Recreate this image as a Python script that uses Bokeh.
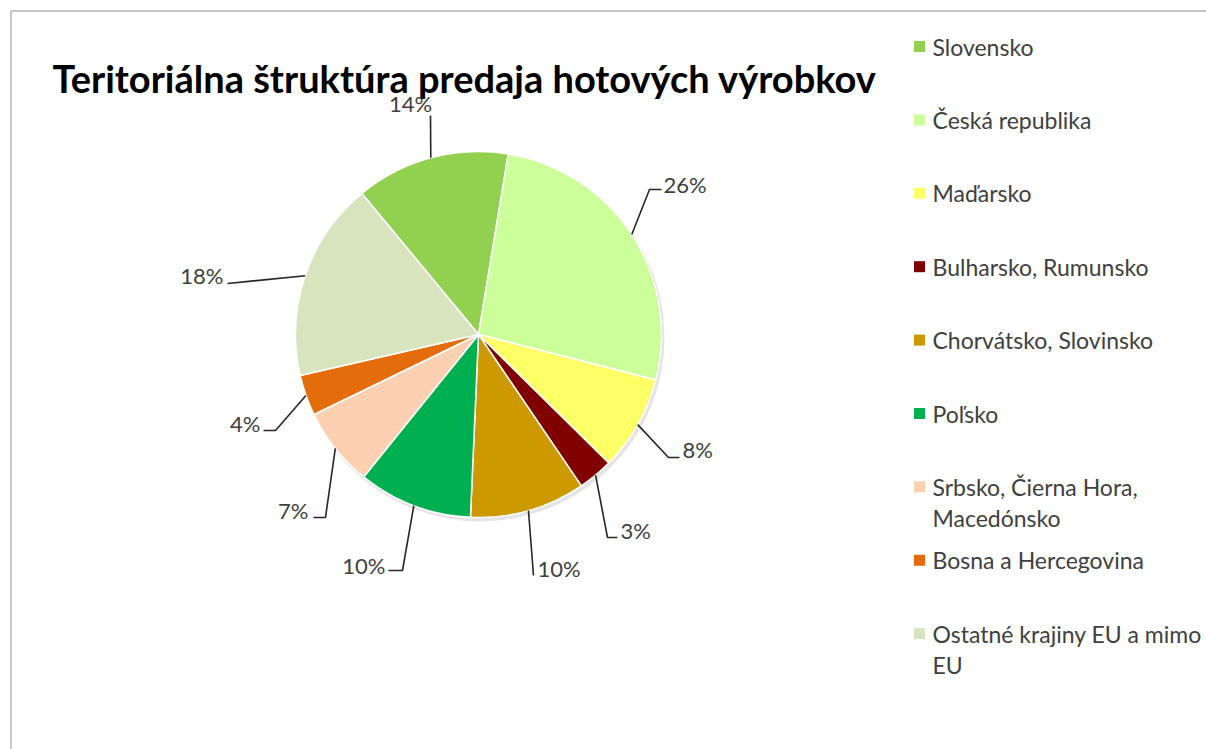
import math
from bokeh.plotting import figure
from bokeh.models import Range1d
from bokeh.core.properties import value
from bokeh.embed import file_html
from bokeh.resources import INLINE

W, H = 1206, 749

# ---------------- data ----------------
title = "Teritoriálna štruktúra predaja hotových výrobkov"
categories = [
    "Slovensko",
    "Česká republika",
    "Maďarsko",
    "Bulharsko, Rumunsko",
    "Chorvátsko, Slovinsko",
    "Poľsko",
    "Srbsko, Čierna Hora, Macedónsko",
    "Bosna a Hercegovina",
    "Ostatné krajiny EU a mimo EU",
]
legend_lines = [
    ["Slovensko"],
    ["Česká republika"],
    ["Maďarsko"],
    ["Bulharsko, Rumunsko"],
    ["Chorvátsko, Slovinsko"],
    ["Poľsko"],
    ["Srbsko, Čierna Hora,", "Macedónsko"],
    ["Bosna a Hercegovina"],
    ["Ostatné krajiny EU a mimo", "EU"],
]
values = [13.6, 26.4, 8.4, 3.1, 10.2, 10.1, 7.0, 3.6, 17.6]
colors = ["#92D050", "#CCFF99", "#FFFF66", "#800000", "#CC9900",
          "#00B050", "#FCD0B0", "#E46C0A", "#D7E4BD"]
pct_labels = [f"{round(v)}%" for v in values]

# ---------------- layout (pixel coords, y downwards) ----------------
CX, CY, R = 478, 334, 183
FIRST_ANGLE = 320.4  # degrees clockwise from 12 o'clock
# elbow x,y ; end x,y ; text x,y ; align
label_layout = [
    (430, 115, 430, 115, 410, 103, "center"),
    (649, 189, 661, 189, 663, 184, "left"),
    (668, 457, 679, 457, 682, 449, "left"),
    (607, 537, 617, 537, 620, 530, "left"),
    (533, 575, 533, 575, 537, 568, "left"),
    (402, 570, 388, 570, 385, 565, "right"),
    (325, 517, 313, 517, 308, 510, "right"),
    (275, 430, 263, 430, 260, 423, "right"),
    (227, 283, 227, 283, 223, 275, "right"),
]
LEG_X_BOX, LEG_X_TEXT, LEG_Y0, LEG_STEP, LEG_LINE = 919, 932, 46, 73.4, 31

FONT = "Lato"


def Y(py):
    return H - py


p = figure(width=W, height=H, x_range=Range1d(0, W), y_range=Range1d(0, H),
           output_backend="svg", toolbar_location=None, min_border=0)
p.axis.visible = False
p.grid.visible = False
p.outline_line_color = None
p.background_fill_color = "white"
p.border_fill_color = "white"

# chart frame
p.quad(left=[10.5], right=[W + 50], top=[Y(10.5)], bottom=[Y(H + 50)],
       fill_color=None, line_color="#8E8E8E", line_width=1)

# title
p.text(x=[52], y=[Y(77)], text=[title], text_font=value(FONT),
       text_font_style="bold", text_font_size="38px", text_color="#000000",
       text_align="left", text_baseline="alphabetic")

# pie shadow
p.circle(x=[CX + 2], y=[Y(CY + 3)], radius=R + 1, fill_color="#000000",
         fill_alpha=0.10, line_color=None)

# wedges (clockwise from FIRST_ANGLE)
total = sum(values)
starts, ends, mids = [], [], []
acc = FIRST_ANGLE
for v in values:
    a0 = acc
    a1 = acc + v / total * 360.0
    acc = a1
    starts.append(math.radians(90 - a1))
    ends.append(math.radians(90 - a0))
    mids.append((a0 + a1) / 2)

p.wedge(x=CX, y=Y(CY), radius=R, start_angle=starts, end_angle=ends,
        fill_color=colors, line_color="white", line_width=1.5)

# leader lines and labels
xs, ys = [], []
tx, ty, tt, ta = [], [], [], []
for m, lay, lab in zip(mids, label_layout, pct_labels):
    ex = CX + R * math.sin(math.radians(m))
    ey = CY - R * math.cos(math.radians(m))
    bx, by, qx, qy, lx, ly, al = lay
    xs.append([ex, bx, qx])
    ys.append([Y(ey), Y(by), Y(qy)])
    tx.append(lx); ty.append(Y(ly)); tt.append(lab); ta.append(al)

p.multi_line(xs=xs, ys=ys, line_color="#262626", line_width=1.6)
for x_, y_, t_, a_ in zip(tx, ty, tt, ta):
    p.text(x=[x_], y=[y_], text=[t_], text_font=value(FONT),
           text_font_size="22px", text_color="#404040",
           text_align=a_, text_baseline="middle")

# legend
for i, (lines, c) in enumerate(zip(legend_lines, colors)):
    y0 = LEG_Y0 + i * LEG_STEP
    p.rect(x=[LEG_X_BOX], y=[Y(y0)], width=11, height=11,
           fill_color=c, line_color=None)
    for j, ln in enumerate(lines):
        p.text(x=[LEG_X_TEXT], y=[Y(y0 + j * LEG_LINE)], text=[ln],
               text_font=value(FONT), text_font_size="23px",
               text_color="#404040", text_align="left",
               text_baseline="middle")

open("out.html", "w").write(file_html(p, INLINE))
